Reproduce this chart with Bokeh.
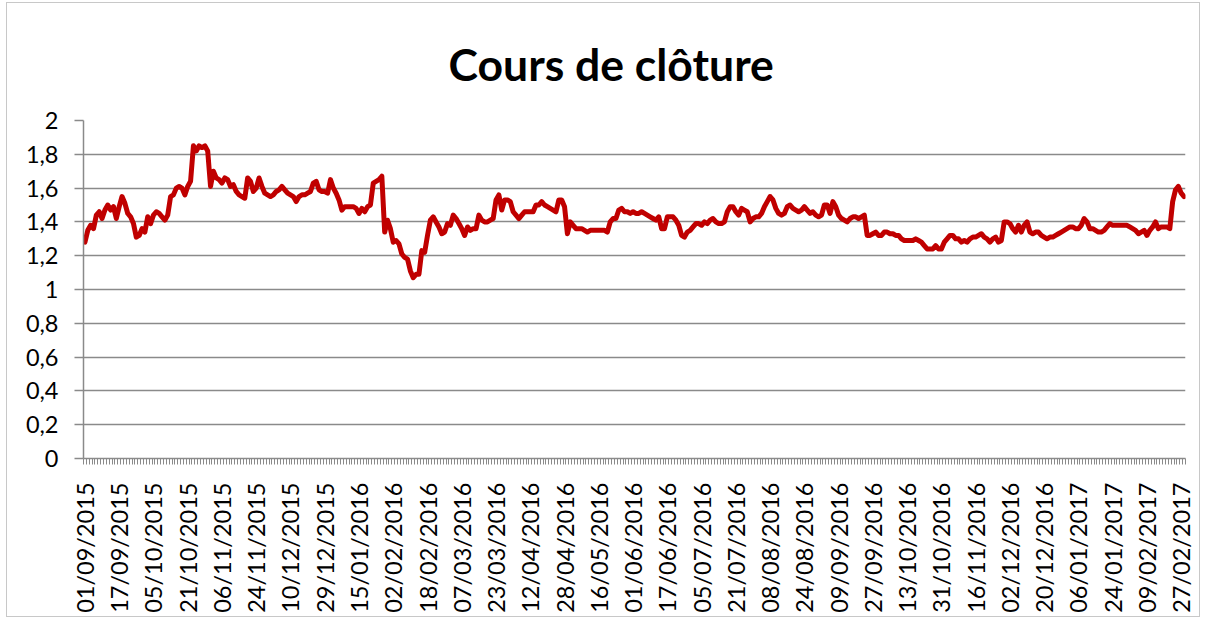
import pandas as pd
from math import pi
from bokeh.plotting import figure
from bokeh.models import FixedTicker, Range1d, ColumnDataSource
from bokeh.embed import file_html
from bokeh.resources import INLINE

# ---------------- data ----------------
title_text = "Cours de clôture"
start_date = "2015-09-01"
market_holidays = ["2015-12-25", "2016-01-01", "2016-03-25", "2016-03-28", "2016-12-26"]
label_step = 12

closing_prices = [
    1.28, 1.35, 1.38, 1.36, 1.44, 1.46, 1.42, 1.47, 1.50, 1.47, 1.49,
    1.42, 1.49, 1.55, 1.51, 1.45, 1.43, 1.39, 1.31, 1.32, 1.36, 1.34, 1.43,
    1.39, 1.44, 1.46, 1.45, 1.43, 1.41, 1.44, 1.55, 1.56, 1.60, 1.61, 1.60,
    1.56, 1.61, 1.64, 1.85, 1.82, 1.85, 1.84, 1.85, 1.82, 1.61, 1.70, 1.66,
    1.65, 1.63, 1.66, 1.65, 1.61, 1.62, 1.58, 1.56, 1.55, 1.54, 1.66,
    1.64, 1.58, 1.60, 1.66, 1.61, 1.57, 1.56, 1.55, 1.56, 1.58, 1.59, 1.61,
    1.59, 1.57, 1.56, 1.55, 1.52, 1.55, 1.56, 1.56, 1.57, 1.58, 1.63,
    1.64, 1.59, 1.58, 1.58, 1.57, 1.65, 1.60, 1.57, 1.53, 1.47, 1.49, 1.49,
    1.49, 1.49, 1.48, 1.45, 1.48, 1.46, 1.49, 1.50, 1.63, 1.64, 1.65,
    1.67, 1.34, 1.41, 1.36, 1.28, 1.29, 1.27, 1.21, 1.19, 1.18, 1.11, 1.07,
    1.09, 1.09, 1.23, 1.22, 1.32, 1.41, 1.43, 1.40, 1.37, 1.33, 1.34, 1.39,
    1.38, 1.44, 1.42, 1.39, 1.36, 1.32, 1.37, 1.35, 1.36, 1.36, 1.44, 1.41,
    1.40, 1.40, 1.41, 1.42, 1.53, 1.56, 1.47, 1.53, 1.53, 1.52, 1.46,
    1.44, 1.42, 1.44, 1.46, 1.46, 1.46, 1.46, 1.50, 1.50, 1.52, 1.50, 1.49,
    1.48, 1.47, 1.46, 1.53, 1.53, 1.49, 1.33, 1.40, 1.38, 1.36, 1.36,
    1.36, 1.35, 1.34, 1.35, 1.35, 1.35, 1.35, 1.35, 1.35, 1.34, 1.40, 1.42,
    1.42, 1.47, 1.48, 1.46, 1.46, 1.45, 1.46, 1.45, 1.45, 1.46, 1.45,
    1.44, 1.43, 1.42, 1.41, 1.43, 1.36, 1.36, 1.43, 1.43, 1.43, 1.41, 1.38,
    1.32, 1.31, 1.34, 1.35, 1.37, 1.39, 1.39, 1.38, 1.40, 1.39, 1.41, 1.42,
    1.40, 1.39, 1.39, 1.40, 1.46, 1.49, 1.49, 1.46, 1.44, 1.48, 1.47,
    1.46, 1.40, 1.42, 1.43, 1.43, 1.45, 1.49, 1.52, 1.55, 1.53, 1.48, 1.45,
    1.44, 1.45, 1.49, 1.50, 1.48, 1.47, 1.46, 1.47, 1.49, 1.47, 1.45, 1.46,
    1.44, 1.43, 1.44, 1.50, 1.50, 1.45, 1.52, 1.49, 1.44, 1.42, 1.41,
    1.40, 1.42, 1.43, 1.43, 1.42, 1.43, 1.44, 1.32, 1.32, 1.33, 1.34, 1.32,
    1.32, 1.34, 1.34, 1.33, 1.33, 1.32, 1.32, 1.30, 1.29, 1.29, 1.29,
    1.29, 1.30, 1.29, 1.28, 1.26, 1.24, 1.24, 1.24, 1.26, 1.24, 1.24, 1.28,
    1.30, 1.32, 1.32, 1.30, 1.30, 1.28, 1.29, 1.28, 1.30, 1.31, 1.31, 1.32,
    1.33, 1.31, 1.30, 1.28, 1.30, 1.31, 1.28, 1.29, 1.40, 1.40, 1.39,
    1.36, 1.34, 1.38, 1.34, 1.38, 1.40, 1.34, 1.33, 1.34, 1.34, 1.32, 1.31,
    1.30, 1.31, 1.31, 1.32, 1.33, 1.34, 1.35, 1.36, 1.37, 1.37, 1.36,
    1.36, 1.38, 1.42, 1.40, 1.36, 1.36, 1.35, 1.34, 1.34, 1.35, 1.37, 1.39,
    1.38, 1.38, 1.38, 1.38, 1.38, 1.38, 1.37, 1.36, 1.35, 1.33, 1.34, 1.35,
    1.32, 1.35, 1.37, 1.40, 1.36, 1.37, 1.37, 1.37, 1.36, 1.52, 1.59, 1.61,
    1.57, 1.55,
]

y_ticks = [0, 0.2, 0.4, 0.6, 0.8, 1.0, 1.2, 1.4, 1.6, 1.8, 2.0]
y_tick_labels = ["0", "0,2", "0,4", "0,6", "0,8", "1", "1,2", "1,4", "1,6", "1,8", "2"]

# ---------------- derived ----------------
n = len(closing_prices)
dates = pd.bdate_range(start=start_date, periods=n, freq="C", holidays=market_holidays)
date_labels = [d.strftime("%d/%m/%Y") for d in dates]
idx = list(range(n))
label_idx = [i for i in idx if i % label_step == 0]

source = ColumnDataSource(dict(x=idx, y=closing_prices, date=date_labels))

FONT = "Lato"
GRAY = "#8a8a8a"

p = figure(
    frame_width=1102, frame_height=338,
    min_border_left=76, min_border_right=14, min_border_top=117, min_border_bottom=158,
    x_range=Range1d(-0.5, n - 0.5), y_range=Range1d(0, 2),
    output_backend="svg", toolbar_location=None,
    title=title_text,
)
p.styles = {"margin-left": "7px", "margin-top": "3px", "outline": "1px solid #c8c8c8"}
p.outline_line_color = None
p.background_fill_color = "white"
p.border_fill_color = "white"

p.title.text_font = FONT
p.title.text_font_style = "bold"
p.title.text_font_size = "44.5px"
p.title.text_color = "#000000"
p.title.align = "left"
p.title.offset = 365
p.title.standoff = 61

p.line("x", "y", source=source, line_color="#C00000", line_width=5,
       line_join="round", line_cap="round")

# x axis
xa = p.xaxis[0]
xa.ticker = FixedTicker(ticks=label_idx, minor_ticks=[i - 0.5 for i in range(n + 1)])
xa.major_label_overrides = {i: date_labels[i] for i in label_idx}
xa.major_label_orientation = pi / 2
xa.major_tick_line_color = None
xa.major_tick_out = 0
xa.major_tick_in = 0
xa.minor_tick_line_color = GRAY
xa.minor_tick_out = 6
xa.minor_tick_in = 0
xa.axis_line_color = GRAY
xa.axis_line_width = 1.5
xa.major_label_standoff = 18
xa.major_label_text_font = FONT
xa.major_label_text_font_size = "23.5px"
xa.major_label_text_color = "#000000"

# y axis
ya = p.yaxis[0]
ya.ticker = FixedTicker(ticks=y_ticks)
ya.major_label_overrides = {t: s for t, s in zip(y_ticks, y_tick_labels)}
ya.major_tick_line_color = GRAY
ya.major_tick_line_width = 1.5
ya.major_tick_out = 9
ya.major_tick_in = 0
ya.minor_tick_line_color = None
ya.axis_line_color = GRAY
ya.axis_line_width = 1.5
ya.major_label_standoff = 16
ya.major_label_text_font = FONT
ya.major_label_text_font_size = "23.5px"
ya.major_label_text_color = "#000000"

p.xgrid.grid_line_color = None
p.ygrid.grid_line_color = GRAY
p.ygrid.grid_line_width = 1.5

open("out.html", "w").write(file_html(p, INLINE))
